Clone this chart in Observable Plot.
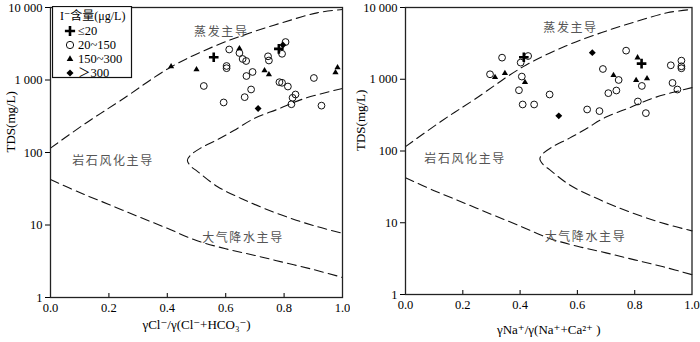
<!DOCTYPE html>
<html><head><meta charset="utf-8">
<script src="https://cdn.jsdelivr.net/npm/d3@7"></script>
<script src="https://cdn.jsdelivr.net/npm/@observablehq/plot@0.6"></script>
<style>
body{margin:0;background:#fff;}
#wrap{position:relative;width:700px;height:342px;display:flex;}
#wrap svg{display:block;}
#legend{position:absolute;left:52px;top:6px;}
</style></head><body><div id="wrap"></div>
<script>
// ---- data ----
const xTicks = [0, 0.2, 0.4, 0.6, 0.8, 1.0];
const yTicks = [1, 10, 100, 1000, 10000];
const yTickLabels = ["1", "10", "100", "1 000", "10 000"];
const groups = ["≤20", "20~150", "150~300", "＞300"];
const legendTitle = "I⁻含量(μg/L)";
const yLabel = "TDS(mg/L)";
const clLabel = "γCl⁻/γ(Cl⁻+HCO₃⁻)";
const naLabel = "γNa⁺/γ(Na⁺+Ca²⁺ )";
const regionNames = ["蒸发主导", "岩石风化主导", "大气降水主导"];

// Gibbs boundary curves [ratio, TDS]
const upperCurve = [[0,115],[0.126,262],[0.24,521],[0.411,1500],[0.559,2900],[0.685,4480],[0.799,6270],[0.913,8440],[1.0,9400]];
const noseCurve = [[1.0,765],[0.867,551],[0.782,401],[0.696,292],[0.628,201],[0.571,150],[0.514,115],[0.48,92],[0.469,78],[0.48,65],[0.503,55],[0.571,34],[0.651,23.4],[0.731,17],[0.822,12.4],[0.913,9.5],[1.0,7.7]];
const lowerCurve = [[0,42.5],[0.1,28],[0.2,19.2],[0.3,13.1],[0.4,9.0],[0.5,6.1],[0.6,4.7],[0.7,3.8],[0.8,3.04],[0.9,2.43],[1.0,1.89]];

// Left panel: γCl/γ(Cl+HCO3) vs TDS
const clCrosses = [[0.559,2060],[0.782,2690]];
const clCircles = [[0.612,2635],[0.647,2357],[0.658,1950],[0.670,1828],[0.745,2122],[0.748,1858],[0.603,1560],[0.603,1455],[0.692,1290],[0.671,1135],[0.525,827],[0.784,933],[0.793,915],[0.813,813],[0.902,1066],[0.687,740],[0.665,580],[0.839,631],[0.829,568],[0.825,463],[0.593,490],[0.928,443],[0.805,3340],[0.793,2298]];
const clTriangles = [[0.413,1535],[0.5,1395],[0.647,2720],[0.733,1352],[0.748,1191],[0.983,1486],[0.976,1268]];
const clDiamonds = [[0.796,3040],[0.711,405]];

// Right panel: γNa/γ(Na+Ca) vs TDS
const naCrosses = [[0.413,2022],[0.824,1652]];
const naCircles = [[0.295,1173],[0.337,2000],[0.428,2107],[0.402,1706],[0.406,1090],[0.396,703],[0.409,445],[0.449,445],[0.503,613],[0.634,379],[0.677,360],[0.689,1390],[0.708,640],[0.736,697],[0.744,977],[0.770,2505],[0.825,807],[0.811,490],[0.839,337],[0.926,1565],[0.963,1818],[0.963,1516],[0.963,1421],[0.932,889],[0.949,719]];
const naTriangles = [[0.3125,1066],[0.347,1211],[0.417,908],[0.726,1137],[0.810,2000],[0.805,969],[0.843,1023]];
const naDiamonds = [[0.535,309],[0.652,2350]];

// region label anchors (data space)
const clRegionAnchors = [[0.585,4500],[0.214,75],[0.659,6.5]];
const naRegionAnchors = [[0.576,5100],[0.208,77],[0.628,6.4]];

// ---- drawing ----
const serif = "'Liberation Serif','DejaVu Serif',serif";
const mixed = "'Liberation Serif','DejaVu Serif','Noto Sans CJK SC',serif";
const cjk = "'Noto Sans CJK SC',sans-serif";

function panel(o) {
  const innerH = 342 - 7 - o.mb;
  const dash = {x: d => d[0], y: d => d[1], stroke: "#111", strokeWidth: 1.1, strokeDasharray: "9,5", curve: "catmull-rom"};
  const regions = regionNames.map((t, i) => ({t, x: o.anchors[i][0], y: o.anchors[i][1]}));
  const svg = Plot.plot({
    width: 350, height: 342,
    marginLeft: o.ml, marginRight: o.mr, marginTop: 7, marginBottom: o.mb,
    style: {fontFamily: serif, fontSize: "12px", color: "#000", background: "#fff"},
    x: {domain: [0, 1]},
    y: {type: "log", domain: [1, 10000]},
    marks: [
      Plot.line(upperCurve, dash),
      Plot.line(noseCurve, dash),
      Plot.line(lowerCurve, dash),
      Plot.text(regions, {x: "x", y: "y", text: "t", fill: "#555", fontFamily: cjk, fontSize: 12}),
      Plot.dot(o.circles, {x: d => d[0], y: d => d[1], r: 3.4, stroke: "#111", strokeWidth: 1, fill: "none"}),
      Plot.dot(o.triangles, {x: d => d[0], y: d => d[1], symbol: "triangle", r: 2.3, fill: "#000", stroke: "none"}),
      Plot.dot(o.diamonds, {x: d => d[0], y: d => d[1], symbol: "diamond2", r: 3.1, fill: "#000", stroke: "none"}),
      Plot.dot(o.crosses, {x: d => d[0], y: d => d[1], symbol: "plus", r: 3.2, stroke: "#000", strokeWidth: 2.6, fill: "none"}),
      Plot.axisY(yTicks, {tickSize: 5, tickPadding: 3, tickFormat: d => yTickLabels[yTicks.indexOf(d)], label: null, fontSize: 12.5, fontFamily: serif}),
      Plot.axisX(xTicks, {tickSize: 0, tickPadding: 6, tickFormat: d => d.toFixed(1), label: null, fontSize: 12.5, fontFamily: serif}),
      Plot.tickX(xTicks.slice(1, -1), {x: d => d, insetTop: innerH - 4, stroke: "#111", strokeWidth: 1.1}),
      Plot.frame({stroke: "#222", strokeWidth: 1.3}),
      Plot.text([o.xLabel], {frameAnchor: "bottom", dy: o.xdy, text: d => d, fontSize: 13, fontFamily: serif}),
      Plot.text([yLabel], {frameAnchor: "left", rotate: -90, dx: o.ydx, text: d => d, fontSize: 13, fontFamily: serif})
    ]
  });
  d3.select(svg).selectAll("text").filter(function() { return regionNames.includes(this.textContent); })
    .attr("letter-spacing", "1.6");
  return svg;
}

const wrap = document.getElementById("wrap");
wrap.appendChild(panel({ml: 50, mr: 8, mb: 45, xdy: 31, ydx: -40, xLabel: clLabel, anchors: clRegionAnchors,
  circles: clCircles, triangles: clTriangles, diamonds: clDiamonds, crosses: clCrosses}));
wrap.appendChild(panel({ml: 55, mr: 8.5, mb: 48, xdy: 39, ydx: -45, xLabel: naLabel, anchors: naRegionAnchors,
  circles: naCircles, triangles: naTriangles, diamonds: naDiamonds, crosses: naCrosses}));

// legend
const lg = d3.select(wrap).append("svg").attr("id", "legend").attr("width", 81).attr("height", 73);
lg.append("rect").attr("x", 0.5).attr("y", 0.5).attr("width", 79).attr("height", 71).attr("fill", "#fff").attr("stroke", "#111").attr("stroke-width", 1.2);
lg.append("text").attr("x", 8).attr("y", 9.5).attr("dy", "0.35em").attr("font-family", mixed).attr("font-size", 12).text(legendTitle);
const legendSymbols = [
  {type: d3.symbolPlus, size: 36, fill: "none", stroke: "#000", sw: 2.6},
  {type: d3.symbolCircle, size: 42, fill: "none", stroke: "#111", sw: 1},
  {type: d3.symbolTriangle, size: 19, fill: "#000", stroke: "none", sw: 0},
  {type: d3.symbolDiamond2, size: 32, fill: "#000", stroke: "none", sw: 0}
];
groups.forEach((g, i) => {
  const cy = 25 + i * 14;
  const s = legendSymbols[i];
  lg.append("path").attr("transform", `translate(18,${cy})`).attr("d", d3.symbol(s.type, s.size)())
    .attr("fill", s.fill).attr("stroke", s.stroke).attr("stroke-width", s.sw);
  lg.append("text").attr("x", 26).attr("y", cy).attr("dy", "0.35em").attr("font-family", mixed).attr("font-size", 12.5).text(g);
});
</script></body></html>
